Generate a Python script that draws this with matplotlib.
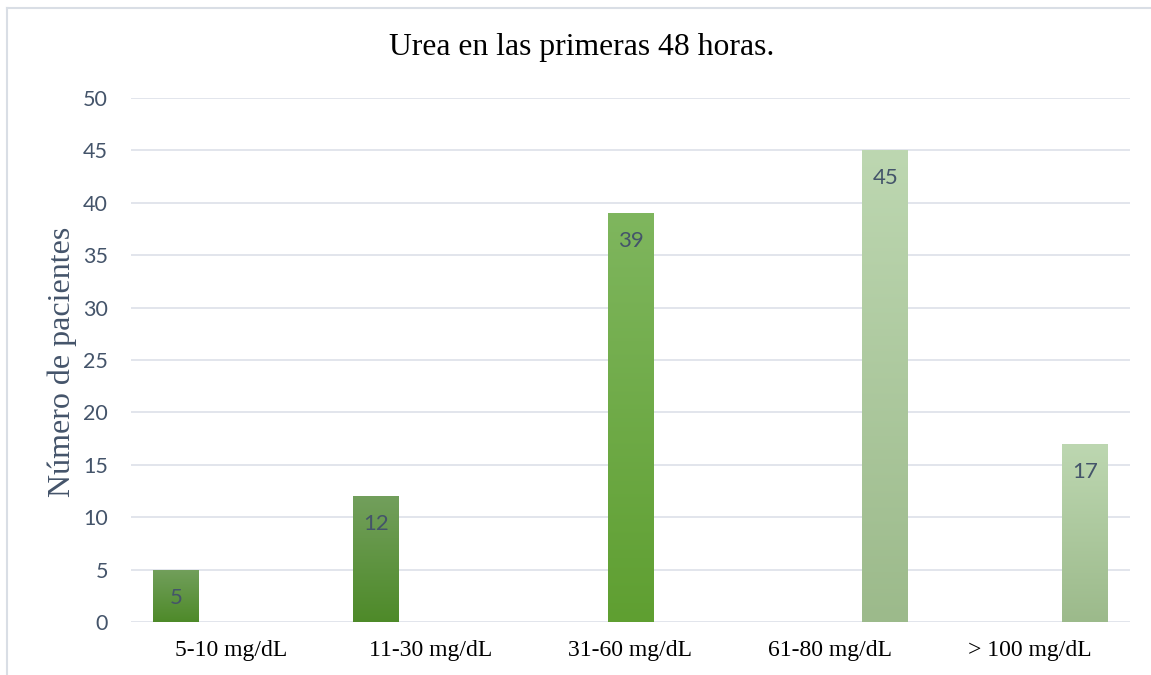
import matplotlib.pyplot as plt
import numpy as np
from matplotlib.colors import LinearSegmentedColormap
from matplotlib.lines import Line2D

# datos del grafico
categorias = ['5-10 mg/dL', '11-30 mg/dL', '31-60 mg/dL', '61-80 mg/dL', '> 100 mg/dL']
pacientes = [5, 12, 39, 45, 17]
serie = [0, 0, 1, 2, 2]  # columna dentro del grupo (como en Excel)

# colores degradado (arriba, abajo) para cada serie
degradados = [('#729f5c', '#4e8a29'), ('#7fb65e', '#5f9f31'), ('#bdd7b1', '#9cba8b')]
desplaz = [-0.275, 0.0, 0.275]
ancho = 0.23

gris_azul = '#44546a'
serif = 'Liberation Serif'
sans = 'Lato'

fig = plt.figure(figsize=(11.51, 6.75), dpi=100)
ax = fig.add_axes([131 / 1151, 1 - 622 / 675, 999 / 1151, 524 / 675])

x = np.arange(len(categorias))
grad = np.linspace(0, 1, 256).reshape(-1, 1)
for i, v in enumerate(pacientes):
    s = serie[i]
    xc = x[i] + desplaz[s]
    bars = ax.bar(xc, v, width=ancho, color='none', edgecolor='none', zorder=3)
    cmap = LinearSegmentedColormap.from_list('g%d' % i, [degradados[s][1], degradados[s][0]])
    im = ax.imshow(grad, cmap=cmap, aspect='auto', origin='lower',
                   extent=(xc - ancho / 2, xc + ancho / 2, 0, v), zorder=3)
    im.set_clip_path(bars[0])
    ax.annotate(str(v), (xc, v), xytext=(0, -28), textcoords='offset pixels',
                ha='center', va='center', fontsize=16, color=gris_azul,
                family=sans, zorder=4)

ax.set_xlim(-0.5, len(categorias) - 0.5)
ax.set_ylim(0, 50)
ax.set_yticks(np.arange(0, 51, 5))
ax.yaxis.grid(True, color='#dfe3ea', linewidth=1.3)
ax.set_axisbelow(True)
for sp in ax.spines.values():
    sp.set_visible(False)
ax.tick_params(length=0)
ax.tick_params(axis='y', pad=16.5, labelsize=15.5, labelcolor=gris_azul)
ax.tick_params(axis='x', pad=13, labelsize=17)
ax.set_xticks(x)
ax.set_xticklabels(categorias, family=serif)
for t in ax.get_yticklabels():
    t.set_family(sans)

ax.set_ylabel('Número de pacientes', family=serif, fontsize=23, color=gris_azul)
ax.yaxis.set_label_coords(-0.054, 0.497)
fig.text(582 / 1151, 1 - 47 / 675, 'Urea en las primeras 48 horas.', ha='center', va='center',
         family=serif, fontsize=22.8)

# borde del area del grafico
fig.add_artist(Line2D([7 / 1151, 7 / 1151], [0, 1 - 8 / 675], color='#d9dee5', linewidth=1.5))
fig.add_artist(Line2D([7 / 1151, 1], [1 - 8 / 675, 1 - 8 / 675], color='#d9dee5', linewidth=1.5))

fig.savefig('out.png', dpi=100)
